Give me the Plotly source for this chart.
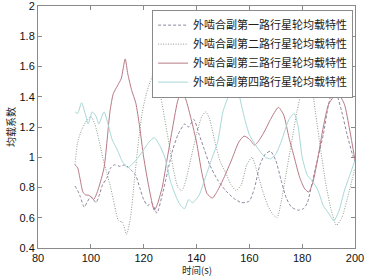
import plotly.graph_objects as go

names = ["外啮合副第一路行星轮均载特性", "外啮合副第二路行星轮均载特性",
         "外啮合副第三路行星轮均载特性", "外啮合副第四路行星轮均载特性"]

t1 = [94, 95, 96, 97.5, 98.5, 100, 101, 102, 103, 104.5, 106, 107.5, 109, 111, 113, 115, 117, 118.5, 120, 121.5, 123, 125,
      127, 129, 131, 133, 135.5, 137, 139, 141, 143, 145, 148, 151, 154, 157, 160, 162, 164, 166, 168, 170, 172, 174, 176,
      178.5, 180.5, 182, 184, 186, 188, 190, 191.7, 193, 195, 197, 199, 200]
v1 = [0.81, 0.78, 0.74, 0.67, 0.70, 0.74, 0.72, 0.70, 0.74, 0.82, 0.86, 0.93, 0.95, 0.94, 0.95, 0.92, 0.88, 0.80, 0.72, 0.68, 0.70, 0.63,
      0.75, 0.90, 1.05, 1.15, 1.22, 1.20, 1.25, 1.15, 1.05, 0.95, 0.85, 0.78, 0.73, 0.70, 0.71, 0.80, 0.95, 1.02, 1.04, 0.98, 0.85, 0.73, 0.67,
      0.65, 0.66, 0.70, 0.85, 1.00, 1.15, 1.35, 1.45, 1.42, 1.30, 1.15, 1.02, 0.97]

t2 = [94, 95, 96.5, 98, 100, 101.5, 103, 104.5, 106, 107.5, 109, 110.5, 112, 113.5, 115, 116.5, 118, 119.5, 121, 122.5, 124,
      125.5, 127, 128.5, 130, 131.5, 133, 134.5, 136, 138, 140, 142, 143.5, 145, 147, 149, 151, 153, 155, 157, 159, 161, 163,
      165, 167, 169, 170.5, 172, 174, 176, 178, 180, 182, 183.5, 185, 187, 189, 191, 193, 195, 197, 199, 200]
v2 = [0.95, 1.10, 1.18, 1.23, 1.27, 1.22, 1.12, 1.00, 0.90, 0.80, 0.68, 0.58, 0.57, 0.49, 0.60, 0.85, 1.10, 1.30, 1.42, 1.50, 1.56,
      1.48, 1.35, 1.20, 1.05, 0.90, 0.80, 0.78, 0.85, 1.00, 1.15, 1.27, 1.30, 1.25, 1.10, 0.97, 0.90, 0.82, 0.78, 0.82, 0.95, 1.00, 0.90,
      0.78, 0.68, 0.62, 0.60, 0.70, 0.90, 1.10, 1.30, 1.45, 1.53, 1.48, 1.30, 1.05, 0.82, 0.65, 0.55, 0.60, 0.72, 0.86, 0.93]

t3 = [94, 95, 96, 97, 98, 99, 100, 101, 102, 103, 105, 107.3, 108.5, 110, 111.5, 113, 114, 115.5, 117, 118.5, 120, 122, 124,
      125, 127, 129, 131, 133, 134.5, 136, 138, 140, 142, 144, 146, 148, 150, 153, 156, 158, 160, 162, 164, 166, 168, 171,
      173, 175, 177, 179, 181, 182.5, 184, 186, 188, 190, 192, 194, 196, 198, 200]
v3 = [0.95, 0.93, 0.85, 0.77, 0.75, 0.75, 0.74, 0.72, 0.75, 0.80, 0.93, 1.31, 1.42, 1.47, 1.52, 1.65, 1.55, 1.44, 1.36, 1.20, 1.00, 0.80, 0.65,
      0.68, 0.80, 1.00, 1.20, 1.38, 1.43, 1.38, 1.25, 1.10, 0.90, 0.76, 0.73, 0.78, 0.85, 0.97, 1.10, 1.14, 1.12, 1.08, 1.12, 1.18, 1.25, 1.33,
      1.28, 1.13, 1.00, 0.87, 0.79, 0.77, 0.83, 1.00, 1.20, 1.35, 1.40, 1.41, 1.35, 1.18, 0.98]

t4 = [94, 95, 96.5, 98, 99, 100.5, 102, 103, 105, 106.5, 108, 110, 112, 114, 116, 118, 120, 122, 124, 126, 128, 130, 132,
      134, 135.5, 137, 138.5, 141, 144, 146, 148, 150, 152, 154.5, 156, 158, 160, 162, 164, 166, 168, 170, 172, 175, 177,
      178.5, 180, 182, 184, 186, 188, 190, 192, 194, 196, 198, 200]
v4 = [1.30, 1.29, 1.36, 1.28, 1.22, 1.30, 1.27, 1.22, 1.30, 1.22, 1.12, 1.05, 0.97, 0.93, 0.96, 1.00, 1.05, 1.10, 1.13, 1.08, 1.00, 0.85, 0.75,
      0.68, 0.66, 0.72, 0.70, 0.75, 0.90, 1.00, 1.10, 1.30, 1.40, 1.49, 1.42, 1.27, 1.15, 1.09, 1.04, 1.00, 0.99, 1.02, 1.10, 1.25, 1.29,
      1.20, 1.00, 0.88, 0.84, 0.78, 0.68, 0.63, 0.58, 0.65, 0.78, 0.88, 0.98]

x_ticks = [80, 100, 120, 140, 160, 180, 200]
y_ticks = [0.4, 0.6, 0.8, 1.0, 1.2, 1.4, 1.6, 1.8, 2.0]
y_tick_text = ["0.4", "0.6", "0.8", "1", "1.2", "1.4", "1.6", "1.8", "2"]
x_title = "时间(s)"
y_title = "均载系数"

series = [(t1, v1, "#8f86a0", "3px,2px"), (t2, v2, "#8c9c8c", "1px,1.5px"),
          (t3, v3, "#b87884", "solid"), (t4, v4, "#a6d8d6", "solid")]

fig = go.Figure()
for (t, v, c, d), n in zip(series, names):
    fig.add_trace(go.Scatter(x=t, y=v, mode="lines", name=n,
                             line=dict(color=c, width=1, dash=d, shape="spline", smoothing=0.6)))

axis_common = dict(showgrid=False, zeroline=False, showline=True, linecolor="#8a8a8a", linewidth=1,
                   mirror="ticks", ticks="inside", ticklen=4, tickcolor="#8a8a8a", automargin=False,
                   ticklabeloverflow="allow",
                   tickfont=dict(family="Arial, Liberation Sans", size=11, color="#111"))

fig.update_layout(
    width=368, height=277,
    margin=dict(l=38, r=13, t=6, b=29, pad=0),
    paper_bgcolor="white", plot_bgcolor="white",
    xaxis=dict(range=[80, 200], tickvals=x_ticks, ticktext=[str(x) for x in x_ticks], **axis_common),
    yaxis=dict(range=[0.4, 2.0], tickvals=y_ticks, ticktext=y_tick_text, **axis_common),
    legend=dict(x=0.994, y=0.985, xanchor="right", yanchor="top", bgcolor="white",
                bordercolor="#8a8a8a", borderwidth=1,
                font=dict(family="Noto Sans CJK SC", size=11, color="#222"),
                tracegroupgap=0, itemwidth=30),
    showlegend=True,
    annotations=[
        dict(text=x_title, xref="paper", yref="paper", x=0.5, y=-0.09, xanchor="center", yanchor="middle",
             showarrow=False, font=dict(family="Noto Sans CJK SC", size=9.5, color="#222")),
        dict(text=y_title, xref="paper", yref="paper", x=-0.088, y=0.5, xanchor="center", yanchor="middle",
             textangle=-90, showarrow=False, font=dict(family="Noto Sans CJK SC", size=10, color="#222")),
    ],
)

fig.write_html("out.html", config={"displayModeBar": False},
               post_script="document.body.style.margin='0px';document.body.style.overflow='hidden';")
